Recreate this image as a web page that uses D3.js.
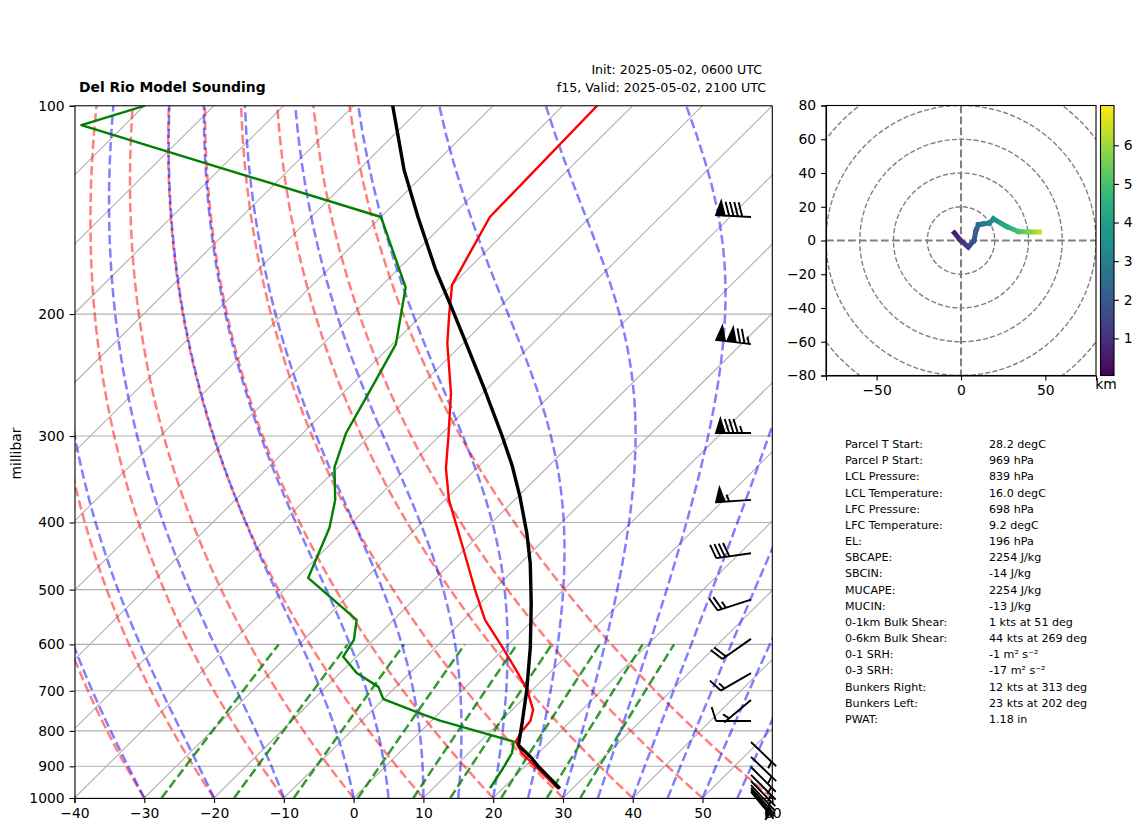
<!DOCTYPE html>
<html>
<head>
<meta charset="utf-8">
<script src="https://d3js.org/d3.v7.min.js"></script>
<style>
  html, body { margin: 0; padding: 0; background: #fff; }
  text { font-family: "DejaVu Sans", sans-serif; fill: #000; }
  .domain, .tick line { stroke: #000; stroke-width: 1.1; }
  .tick text { font-size: 13.9px; }
</style>
</head>
<body>
<div id="chart"></div>
<script>
// Sounding profiles (hPa, degC)
const parcelPressure = [969, 900, 871, 839, 779, 698, 605, 523, 458, 414.7, 367, 330.4, 299, 254.6, 215.6, 196, 172.7, 144.8, 123.8, 107.3, 100];
const parcelTemp = [28.2, 21.9, 19.3, 16.0, 13.3, 9.2, 3.5, -2.7, -8.6, -13.4, -19.7, -25.4, -31.2, -40.8, -50.9, -56.7, -64.5, -74.7, -83.5, -90.8, -94.4];

const tempPressure = [969, 861, 829, 803, 774, 746, 698, 660, 607, 553, 500.6, 438, 371, 334, 300.7, 260.3, 220.4, 200, 181.5, 144.8, 100];
const tempValues = [27.95, 17.6, 15.1, 14.5, 14.2, 13.0, 9.25, 5.5, -0.3, -6.9, -12.65, -20.1, -29.4, -34.4, -38.6, -44.5, -52.25, -56.2, -60.0, -64.4, -65.1];

const dewPressure = [968, 905, 861, 829, 773, 754.5, 720, 691, 660, 625, 591, 553, 481, 407, 371, 333, 297, 262, 221, 183, 144.8, 106.7, 100];
const dewValues = [18.15, 17.1, 16.2, 14.8, 1.2, -2.7, -10.0, -12.5, -17.6, -21.9, -22.8, -25.3, -38.3, -42.5, -45.7, -50.5, -53.8, -56.2, -59.5, -66.3, -80.0, -136.2, -129.9];

// Wind barbs (hPa, knots, degrees the wind blows from)
const barbPressure = [144.8, 221, 297, 371, 443, 517, 589, 660, 722, 774, 830, 872, 902, 926, 945, 958, 967, 974, 980];
const barbSpeed = [90, 125, 85, 55, 40, 25, 20, 15, 5, 10, 5, 5, 5, 5, 5, 5, 5, 5, 5];
const barbDir = [273, 277, 270, 266, 262, 252, 235, 240, 230, 270, 134, 134, 135, 135, 136, 137, 138, 139, 140];

// Background lines
const xTicks = [-40, -30, -20, -10, 0, 10, 20, 30, 40, 50, 60];
const pTicks = [100, 200, 300, 400, 500, 600, 700, 800, 900, 1000];
const isotherms = d3.range(-130, 70, 10);
const dryStarts = d3.range(-40, 70, 10);
const moistStarts = [-40, -30, -20, -10, 0, 5, 10, 15, 20, 25, 30, 35, 40, 45, 50, 55, 60];
const mixRatios = [0.0004, 0.001, 0.002, 0.004, 0.007, 0.01, 0.016, 0.024, 0.032];

// Hodograph (knots, knots, km)
const hodoU = [-3.9, -0.6, 4.3, 7.7, 8.9, 10.3, 13.6, 16.8, 19.2, 27, 34, 40, 46.4];
const hodoV = [4.5, 0.4, -3.9, 0, 5.9, 9.3, 9.9, 10.3, 12.8, 8.3, 5.3, 5.1, 5.1];
const hodoH = [0.6, 0.9, 1.4, 1.9, 2.2, 2.5, 2.8, 3.1, 3.5, 4.3, 5.0, 5.6, 6.4];
const hodoRings = [20, 40, 60, 80, 100];
const hodoXTicks = [-50, 0, 50];
const hodoYTicks = [-80, -60, -40, -20, 0, 20, 40, 60, 80];
const barTicks = [1, 2, 3, 4, 5, 6];

// Parameter table
const statLabels = ["Parcel T Start:", "Parcel P Start:", "LCL Pressure:", "LCL Temperature:", "LFC Pressure:", "LFC Temperature:", "EL:", "SBCAPE:", "SBCIN:", "MUCAPE:", "MUCIN:", "0-1km Bulk Shear:", "0-6km Bulk Shear:", "0-1 SRH:", "0-3 SRH:", "Bunkers Right:", "Bunkers Left:", "PWAT:"];
const statValues = ["28.2 degC", "969 hPa", "839 hPa", "16.0 degC", "698 hPa", "9.2 degC", "196 hPa", "2254 J/kg", "-14 J/kg", "2254 J/kg", "-13 J/kg", "1 kts at 51 deg", "44 kts at 269 deg", "-1 m² s⁻²", "-17 m² s⁻²", "12 kts at 313 deg", "23 kts at 202 deg", "1.18 in"];

// Set up the SVG container
const svg = d3.select("#chart")
  .append("svg")
  .attr("width", 1142)
  .attr("height", 832)
  .style("display", "block");

const plotLeft = 74.5, plotRight = 772.3, plotTop = 105.7, plotBottom = 798;

// Set up the scales
const xScale = d3.scaleLinear().domain([-40, 60]).range([plotLeft, plotRight]);
const yScale = d3.scaleLog().domain([1000, 100]).range([plotBottom, plotTop]);

// skew: one axis width per decade of pressure
function skewX(t, p) {
  return xScale(t) + (plotBottom - yScale(p)) * (plotRight - plotLeft) / (plotBottom - plotTop);
}

function minusFormat(d) {
  return String(d).replace("-", "−");
}

const defs = svg.append("defs");
defs.append("clipPath").attr("id", "skew-clip")
  .append("rect")
  .attr("x", plotLeft).attr("y", plotTop)
  .attr("width", plotRight - plotLeft).attr("height", plotBottom - plotTop);

const plot = svg.append("g").attr("clip-path", "url(#skew-clip)");

const skewLine = d3.line()
  .x(function (d) { return skewX(d[0], d[1]); })
  .y(function (d) { return yScale(d[1]); });

// Grid
plot.selectAll(".hgrid").data(pTicks).join("line")
  .attr("class", "hgrid")
  .attr("x1", plotLeft).attr("x2", plotRight)
  .attr("y1", function (d) { return yScale(d); })
  .attr("y2", function (d) { return yScale(d); })
  .attr("stroke", "#b0b0b0").attr("stroke-width", 1.1);

plot.selectAll(".iso").data(isotherms).join("path")
  .attr("class", "iso")
  .attr("fill", "none").attr("stroke", "#b0b0b0").attr("stroke-width", 1.1)
  .attr("d", function (d) { return skewLine([[d, 1000], [d, 100]]); });

// Pressure levels for the background curves
const pLevels = d3.range(1000, 98, -10);
const mixLevels = d3.range(1000, 590, -10);

function satVapor(tc) {
  return 6.112 * Math.exp(17.67 * tc / (tc + 243.5));
}

// dT/dlnp along a saturated parcel
function moistSlope(t, p) {
  const es = satVapor(t - 273.15);
  const rs = 0.622 * es / (p - es);
  const lv = 2.501e6;
  return (287.05 * t + lv * rs) / (1005 + lv * lv * rs * 0.622 / (287.05 * t * t));
}

function moistCurve(t0) {
  let t = t0 + 273.15;
  const pts = [[t0, 1000]];
  for (let i = 1; i < pLevels.length; i++) {
    const p0 = pLevels[i - 1], p1 = pLevels[i];
    const dl = Math.log(p1 / p0);
    const mid = t + moistSlope(t, p0) * dl / 2;
    t = t + moistSlope(mid, Math.sqrt(p0 * p1)) * dl;
    pts.push([t - 273.15, p1]);
  }
  return pts;
}

// Dry adiabats
plot.selectAll(".dry").data(dryStarts).join("path")
  .attr("class", "dry")
  .attr("fill", "none").attr("stroke", "#ff0000").attr("stroke-opacity", 0.5)
  .attr("stroke-width", 2.5).attr("stroke-dasharray", "9.3,4")
  .attr("d", function (d) {
    return skewLine(pLevels.map(function (p) {
      return [(d + 273.15) * Math.pow(p / 1000, 0.2857) - 273.15, p];
    }));
  });

// Moist adiabats
plot.selectAll(".moist").data(moistStarts).join("path")
  .attr("class", "moist")
  .attr("fill", "none").attr("stroke", "#0000ff").attr("stroke-opacity", 0.5)
  .attr("stroke-width", 2.5).attr("stroke-dasharray", "9.3,4")
  .attr("d", function (d) { return skewLine(moistCurve(d)); });

// Mixing ratio lines
plot.selectAll(".mix").data(mixRatios).join("path")
  .attr("class", "mix")
  .attr("fill", "none").attr("stroke", "#008000").attr("stroke-opacity", 0.8)
  .attr("stroke-width", 2.5).attr("stroke-dasharray", "9.3,4")
  .attr("d", function (d) {
    return skewLine(mixLevels.map(function (p) {
      const lnE = Math.log(p * d / (0.622 + d) / 6.112);
      return [243.5 * lnE / (17.67 - lnE), p];
    }));
  });

// Sounding lines
plot.append("path")
  .datum(d3.zip(tempValues, tempPressure))
  .attr("fill", "none").attr("stroke", "#ff0000").attr("stroke-width", 2.4)
  .attr("stroke-linejoin", "round")
  .attr("d", skewLine);

plot.append("path")
  .datum(d3.zip(dewValues, dewPressure))
  .attr("fill", "none").attr("stroke", "#008000").attr("stroke-width", 2.4)
  .attr("stroke-linejoin", "round")
  .attr("d", skewLine);

plot.append("path")
  .datum(d3.zip(parcelTemp, parcelPressure))
  .attr("fill", "none").attr("stroke", "#000").attr("stroke-width", 3.4)
  .attr("stroke-linejoin", "round")
  .attr("d", skewLine);

// Axes
svg.append("g")
  .attr("transform", "translate(0," + plotBottom + ")")
  .call(d3.axisBottom(xScale).tickValues(xTicks).tickSize(4.9).tickPadding(4.9).tickFormat(minusFormat));

svg.append("g")
  .attr("transform", "translate(" + plotLeft + ",0)")
  .call(d3.axisLeft(yScale).tickValues(pTicks).tickSize(4.9).tickPadding(4.9).tickFormat(d3.format("d")));

svg.append("line").attr("x1", plotLeft).attr("x2", plotRight).attr("y1", plotTop).attr("y2", plotTop).attr("stroke", "#000").attr("stroke-width", 1.1);
svg.append("line").attr("x1", plotRight).attr("x2", plotRight).attr("y1", plotTop).attr("y2", plotBottom).attr("stroke", "#000").attr("stroke-width", 1.1);

svg.append("text")
  .attr("transform", "translate(21,453.5) rotate(-90)")
  .attr("text-anchor", "middle")
  .style("font-size", "13.9px")
  .text("millibar");

// Titles
svg.append("text").attr("x", 79).attr("y", 92)
  .style("font-size", "13.9px").style("font-weight", "bold")
  .text("Del Rio Model Sounding");
svg.append("text").attr("x", 762).attr("y", 74).attr("text-anchor", "end")
  .style("font-size", "12.6px")
  .text("Init: 2025-05-02, 0600 UTC");
svg.append("text").attr("x", 766).attr("y", 92).attr("text-anchor", "end")
  .style("font-size", "12.6px")
  .text("f15, Valid: 2025-05-02, 2100 UTC");

// Wind barbs, built the way matplotlib lays them out
const barbX = 751;
const barbLen = 35, barbSpacing = barbLen * 0.125, barbHeight = barbLen * 0.4, barbWidth = barbLen * 0.25;

function barbPath(speed) {
  const flags = Math.floor(speed / 50);
  const fulls = Math.floor((speed - flags * 50) / 10);
  const halves = (speed - flags * 50 - fulls * 10) >= 5 ? 1 : 0;
  let offset = barbLen;
  let path = "M0,0L0," + (-barbLen);
  for (let i = 0; i < flags; i++) {
    if (offset !== barbLen) offset += barbSpacing / 2;
    path += "M0," + (-offset) + "L" + barbHeight + "," + (-(offset - barbWidth / 2)) + "L0," + (-(offset - barbWidth)) + "Z";
    offset -= barbWidth + barbSpacing;
  }
  for (let i = 0; i < fulls; i++) {
    path += "M0," + (-offset) + "L" + barbHeight + "," + (-(offset + barbWidth / 2));
    offset -= barbSpacing;
  }
  for (let i = 0; i < halves; i++) {
    if (offset === barbLen) offset -= 1.5 * barbSpacing;
    path += "M0," + (-offset) + "L" + (barbHeight / 2) + "," + (-(offset + barbWidth / 4));
    offset -= barbSpacing;
  }
  return path;
}

svg.selectAll(".barb")
  .data(d3.zip(barbPressure, barbSpeed, barbDir))
  .join("path")
  .attr("class", "barb")
  .attr("transform", function (d) {
    return "translate(" + barbX + "," + yScale(d[0]) + ") rotate(" + d[2] + ")";
  })
  .attr("d", function (d) { return barbPath(d[1]); })
  .attr("fill", "#000").attr("stroke", "#000").attr("stroke-width", 1.9);

// Hodograph
const hLeft = 826, hRight = 1096, hTop = 105.5, hBottom = 375.5;
const hx = d3.scaleLinear().domain([-80, 80]).range([hLeft, hRight]);
const hy = d3.scaleLinear().domain([-80, 80]).range([hBottom, hTop]);
const heightColor = d3.scaleSequential(d3.interpolateViridis).domain([0.04, 7.03]);

defs.append("clipPath").attr("id", "hodo-clip")
  .append("rect")
  .attr("x", hLeft).attr("y", hTop)
  .attr("width", hRight - hLeft).attr("height", hBottom - hTop);

const hodo = svg.append("g").attr("clip-path", "url(#hodo-clip)");

hodo.selectAll(".ring").data(hodoRings).join("circle")
  .attr("class", "ring")
  .attr("cx", hx(0)).attr("cy", hy(0))
  .attr("r", function (d) { return hx(d) - hx(0); })
  .attr("fill", "none").attr("stroke", "#808080").attr("stroke-width", 1.39)
  .attr("stroke-dasharray", "5.1,2.2");

hodo.append("line").attr("x1", hLeft).attr("x2", hRight).attr("y1", hy(0)).attr("y2", hy(0))
  .attr("stroke", "#808080").attr("stroke-width", 2.08).attr("stroke-dasharray", "7.7,3.3");
hodo.append("line").attr("x1", hx(0)).attr("x2", hx(0)).attr("y1", hTop).attr("y2", hBottom)
  .attr("stroke", "#808080").attr("stroke-width", 2.08).attr("stroke-dasharray", "7.7,3.3");

// one gradient per hodograph segment so the colour runs with height
hodoU.slice(1).forEach(function (u, i) {
  const grad = defs.append("linearGradient")
    .attr("id", "seg" + i)
    .attr("gradientUnits", "userSpaceOnUse")
    .attr("x1", hx(hodoU[i])).attr("y1", hy(hodoV[i]))
    .attr("x2", hx(u)).attr("y2", hy(hodoV[i + 1]));
  grad.append("stop").attr("offset", "0%").attr("stop-color", heightColor(hodoH[i]));
  grad.append("stop").attr("offset", "100%").attr("stop-color", heightColor(hodoH[i + 1]));
  hodo.append("path")
    .attr("d", "M" + hx(hodoU[i]) + "," + hy(hodoV[i]) + "L" + hx(u) + "," + hy(hodoV[i + 1]))
    .attr("stroke", "url(#seg" + i + ")")
    .attr("stroke-width", 5)
    .attr("stroke-linecap", "square")
    .attr("fill", "none");
});

svg.append("g")
  .attr("transform", "translate(0," + hBottom + ")")
  .call(d3.axisBottom(hx).tickValues(hodoXTicks).tickSize(4.9).tickPadding(4.9).tickFormat(minusFormat));
svg.append("g")
  .attr("transform", "translate(" + hLeft + ",0)")
  .call(d3.axisLeft(hy).tickValues(hodoYTicks).tickSize(4.9).tickPadding(4.9).tickFormat(minusFormat));
svg.append("rect")
  .attr("x", hLeft).attr("y", hTop).attr("width", hRight - hLeft).attr("height", hBottom - hTop)
  .attr("fill", "none").attr("stroke", "#000").attr("stroke-width", 1.1);

// Colour bar
const barLeft = 1100.5, barRight = 1114;
const barScale = d3.scaleLinear().domain([0.04, 7.03]).range([hBottom, hTop]);
const barGrad = defs.append("linearGradient")
  .attr("id", "viridis")
  .attr("x1", 0).attr("y1", 1).attr("x2", 0).attr("y2", 0);
d3.range(0, 1.001, 0.05).forEach(function (f) {
  barGrad.append("stop")
    .attr("offset", f)
    .attr("stop-color", d3.interpolateViridis(f));
});
svg.append("rect")
  .attr("x", barLeft).attr("y", hTop).attr("width", barRight - barLeft).attr("height", hBottom - hTop)
  .attr("fill", "url(#viridis)").attr("stroke", "#000").attr("stroke-width", 1.1);
svg.append("g")
  .attr("transform", "translate(" + barRight + ",0)")
  .call(d3.axisRight(barScale).tickValues(barTicks).tickSize(4.9).tickPadding(4.9).tickFormat(d3.format("d")))
  .select(".domain").remove();
svg.append("text").attr("x", 1106).attr("y", 389).attr("text-anchor", "middle")
  .style("font-size", "13.9px").text("km");

// Parameter table
const statY = d3.scaleLinear().domain([0, statLabels.length - 1]).range([448, 723]);
svg.selectAll(".stat-label").data(statLabels).join("text")
  .attr("class", "stat-label")
  .attr("x", 845)
  .attr("y", function (d, i) { return statY(i); })
  .style("font-size", "11.1px")
  .text(function (d) { return d; });
svg.selectAll(".stat-value").data(statValues).join("text")
  .attr("class", "stat-value")
  .attr("x", 989)
  .attr("y", function (d, i) { return statY(i); })
  .style("font-size", "11.1px")
  .text(function (d) { return d; });
</script>
</body>
</html>
